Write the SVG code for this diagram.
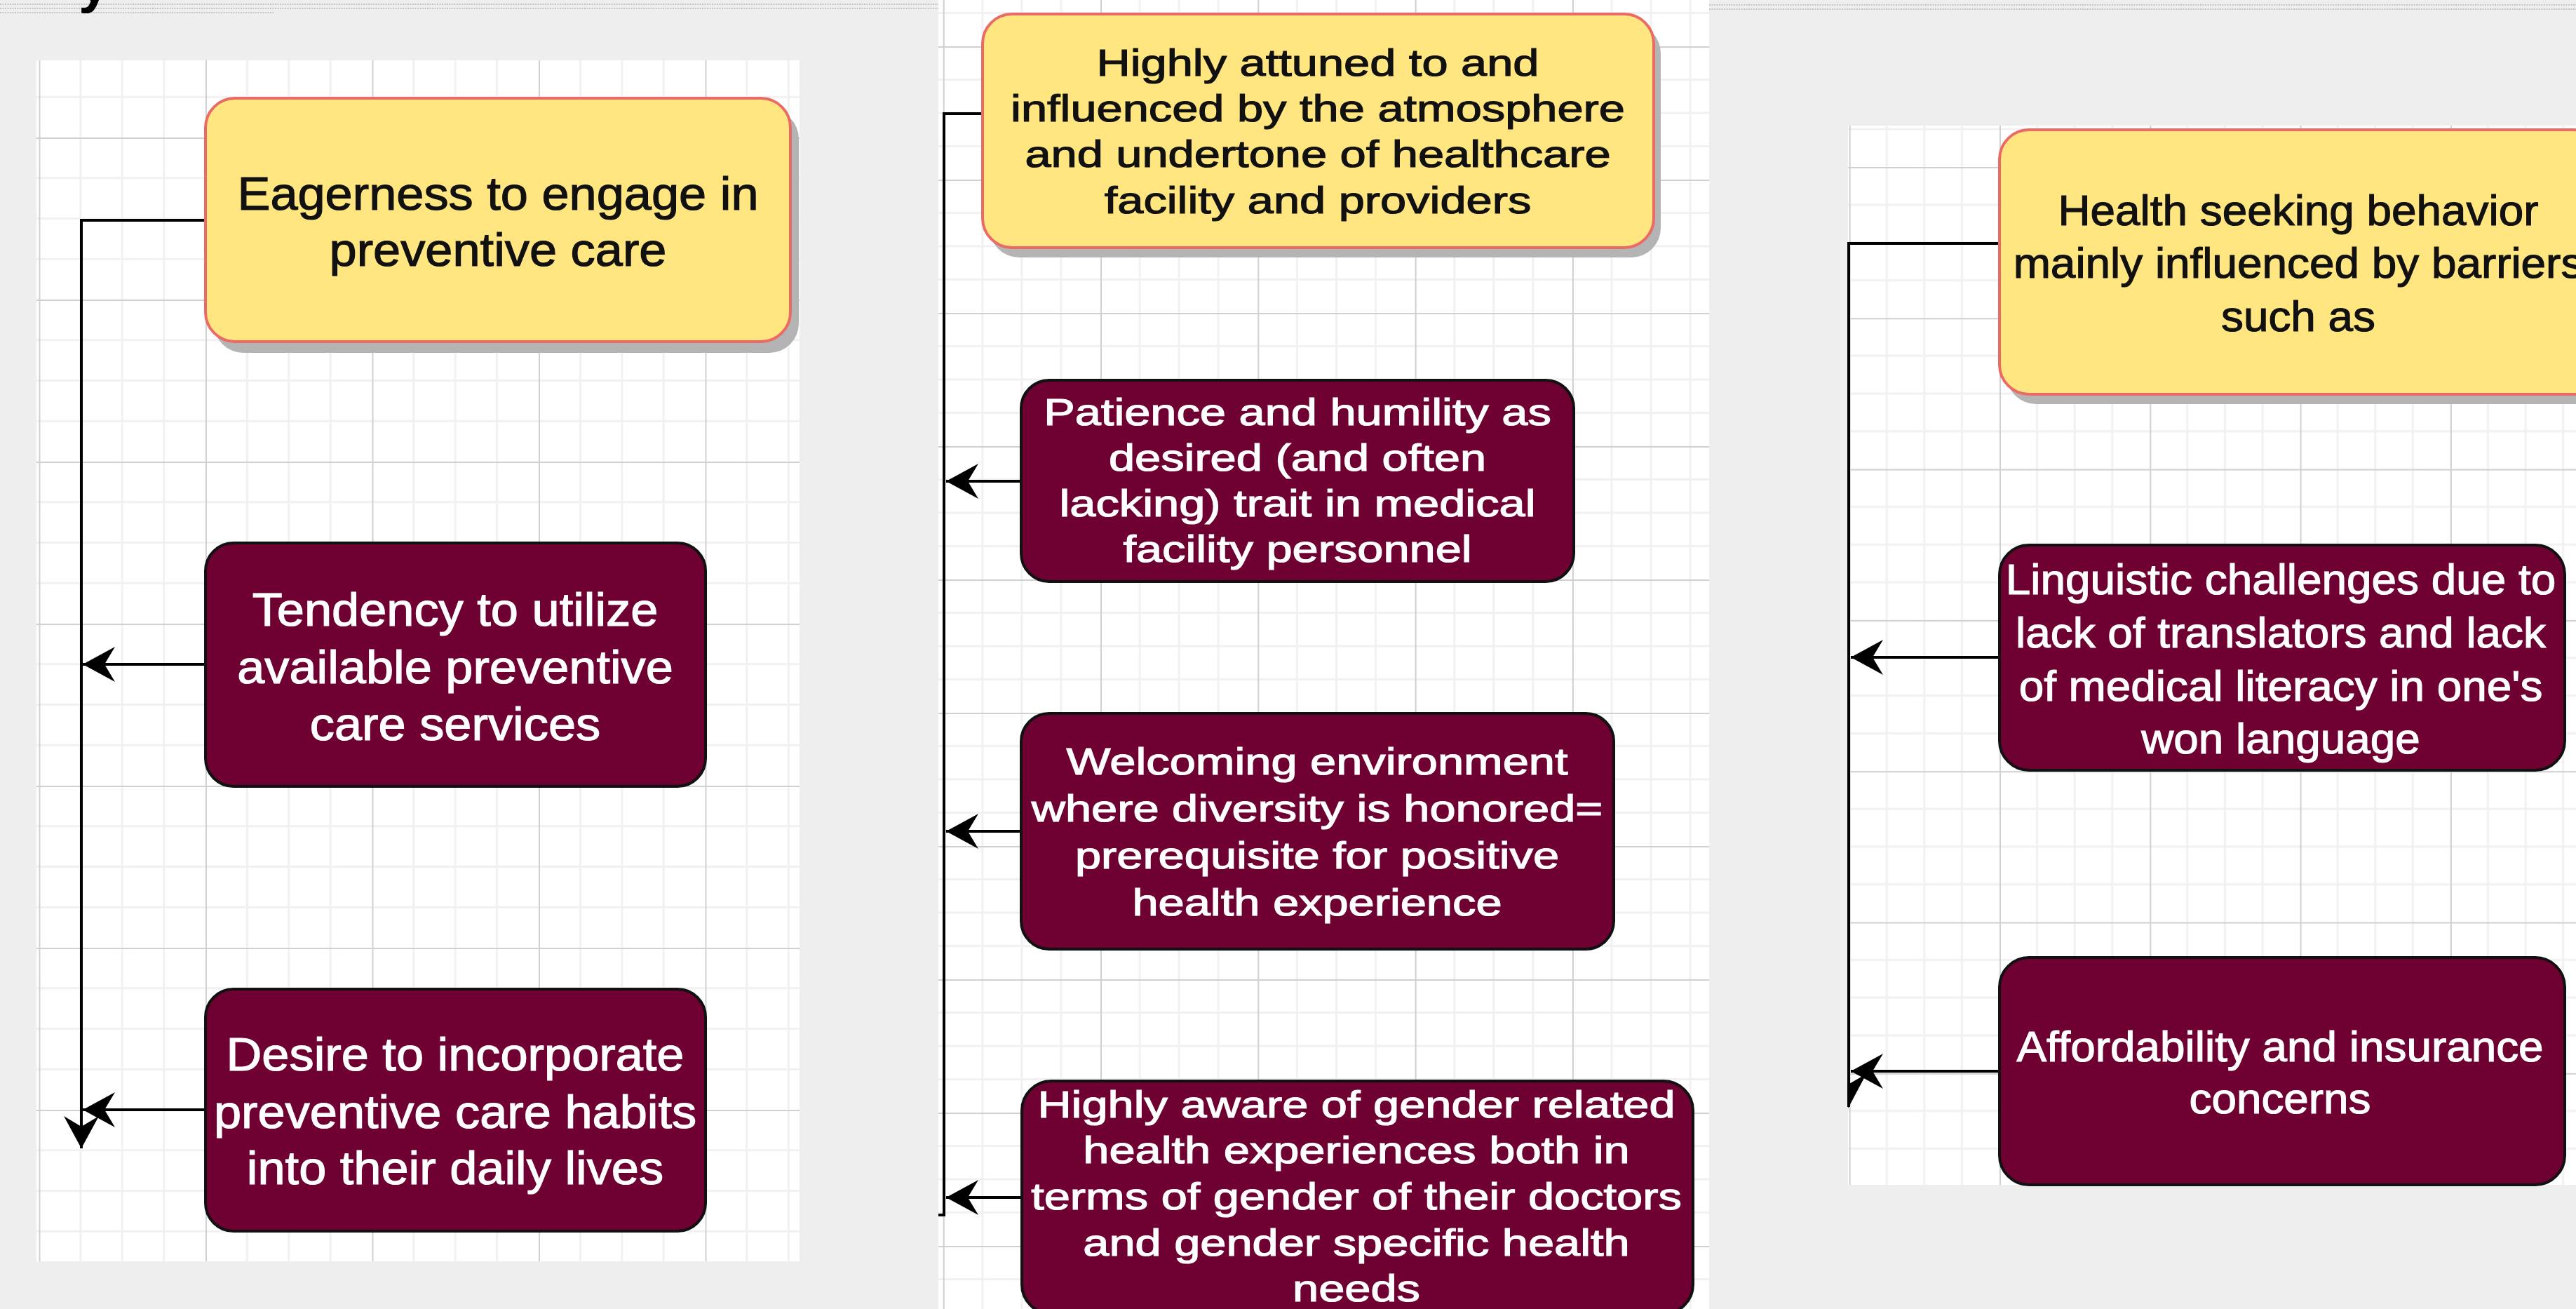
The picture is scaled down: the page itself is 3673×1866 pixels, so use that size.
<svg xmlns="http://www.w3.org/2000/svg" width="3673" height="1866" viewBox="0 0 3673 1866">
<style>
.yel{fill:#FFE680;stroke:#EA6B66;stroke-width:4}
.mar{fill:#6F0032;stroke:#111;stroke-width:4}
.shd{fill:#b4b4b4}
.t{font-family:"Liberation Sans",Arial,Helvetica,sans-serif;text-anchor:middle}
.tk{fill:#111;stroke:#111;stroke-width:1.2}
.tw{fill:#fff;stroke:#fff;stroke-width:1.2}
.f1{font-size:67px}
.f2{font-size:53px}
.f3{font-size:62px}
.edge{fill:none;stroke:#000;stroke-width:4}
.arr{marker-end:url(#ah)}
.hdr{stroke:#b8b8b8;stroke-width:1.6;stroke-dasharray:2 1.5}
.mn{stroke:#f1f1f1;stroke-width:3}
.mj{stroke:#d0d0d0;stroke-width:2}
</style>
<defs>
<marker id="ah" markerUnits="userSpaceOnUse" markerWidth="48" markerHeight="52" viewBox="0 0 48 52" refX="46" refY="26" orient="auto">
<path d="M46,26 L0,1 L15,26 L0,51 Z" fill="#000"/>
</marker>
<pattern id="g1" patternUnits="userSpaceOnUse" x="55.5" y="196" width="237.5" height="231">
<path class="mn" d="M59.4,0V231M118.75,0V231M178.1,0V231M0,57.75H237.5M0,115.5H237.5M0,173.25H237.5"/>
<path class="mj" d="M1,0V231M0,1H237.5"/>
</pattern>
<pattern id="g2" patternUnits="userSpaceOnUse" x="1344.7" y="66" width="224.3" height="190">
<path class="mn" d="M56.1,0V190M112.15,0V190M168.2,0V190M0,47.5H224.3M0,95H224.3M0,142.5H224.3"/>
<path class="mj" d="M1,0V190M0,1H224.3"/>
</pattern>
<pattern id="g3" patternUnits="userSpaceOnUse" x="2636.7" y="22.7" width="214.3" height="215.3">
<path class="mn" d="M53.6,0V215.3M107.15,0V215.3M160.7,0V215.3M0,53.8H214.3M0,107.65H214.3M0,161.5H214.3"/>
<path class="mj" d="M1,0V215.3M0,1H214.3"/>
</pattern>
</defs>

<rect x="0" y="0" width="3673" height="1866" fill="#eeeeee"/>

<g id="header">
<path class="hdr" d="M0,6H1338M0,12H1338M0,18H390M2437,7H3673M2437,13H3673"/>
<text x="112" y="2" font-family="Liberation Sans,Arial,sans-serif" font-weight="bold" font-size="80" fill="#000">y</text>
</g>

<g id="panels">
<rect x="52" y="86" width="1088" height="1712" fill="#fff"/>
<rect x="52" y="86" width="1088" height="1712" fill="url(#g1)"/>
<rect x="1338" y="0" width="1099" height="1866" fill="#fff"/>
<rect x="1338" y="0" width="1099" height="1866" fill="url(#g2)"/>
<rect x="2635" y="179" width="1038" height="1510" fill="#fff"/>
<rect x="2635" y="179" width="1038" height="1510" fill="url(#g3)"/>
</g>

<g id="connectors">
<path class="edge arr" d="M293,314H116V1637"/>
<path class="edge arr" d="M293,947H118"/>
<path class="edge arr" d="M293,1582H118"/>
<path class="edge" d="M1401,162H1346V1732H1338"/>
<path class="edge arr" d="M1456,686H1349"/>
<path class="edge arr" d="M1456,1185H1349"/>
<path class="edge arr" d="M1457,1707H1349"/>
<path class="edge" d="M2851,347H2636V1578"/>
<path class="edge arr" d="M2851,937H2639"/>
<path class="edge arr" d="M2851,1527H2639"/>
<polygon points="2635,1580 2661,1531 2635,1546" fill="#000"/>
</g>

<g id="n1a">
<rect class="shd" x="305" y="156" width="834" height="347" rx="42"/>
<rect class="yel" x="293" y="140" width="834" height="347" rx="42"/>
<text class="t tk f1" transform="translate(710,0) scale(1.05,1)"><tspan x="0" y="299">Eagerness to engage in</tspan><tspan x="0" y="379">preventive care</tspan></text>
</g>
<g id="n1b">
<rect class="mar" x="293" y="774" width="713" height="347" rx="40"/>
<text class="t tw f1" transform="translate(649,0) scale(1.05,1)"><tspan x="0" y="892">Tendency to utilize</tspan><tspan x="0" y="974">available preventive</tspan><tspan x="0" y="1055">care services</tspan></text>
</g>
<g id="n1c">
<rect class="mar" x="293" y="1410" width="713" height="345" rx="40"/>
<text class="t tw f1" transform="translate(649,0) scale(1.05,1)"><tspan x="0" y="1526">Desire to incorporate</tspan><tspan x="0" y="1608">preventive care habits</tspan><tspan x="0" y="1688">into their daily lives</tspan></text>
</g>

<g id="n2a">
<rect class="shd" x="1411" y="34" width="957" height="333" rx="42"/>
<rect class="yel" x="1401" y="20" width="957" height="333" rx="42"/>
<text class="t tk f2" transform="translate(1879,0) scale(1.26,1)"><tspan x="0" y="108">Highly attuned to and</tspan><tspan x="0" y="173">influenced by the atmosphere</tspan><tspan x="0" y="238">and undertone of healthcare</tspan><tspan x="0" y="304">facility and providers</tspan></text>
</g>
<g id="n2b">
<rect class="mar" x="1456" y="542" width="788" height="287" rx="40"/>
<text class="t tw f2" transform="translate(1850,0) scale(1.26,1)"><tspan x="0" y="606">Patience and humility as</tspan><tspan x="0" y="671">desired (and often</tspan><tspan x="0" y="736">lacking) trait in medical</tspan><tspan x="0" y="801">facility personnel</tspan></text>
</g>
<g id="n2c">
<rect class="mar" x="1456" y="1017" width="845" height="336" rx="40"/>
<text class="t tw f2" transform="translate(1878,0) scale(1.26,1)"><tspan x="0" y="1104">Welcoming environment</tspan><tspan x="0" y="1171">where diversity is honored=</tspan><tspan x="0" y="1238">prerequisite for positive</tspan><tspan x="0" y="1305">health experience</tspan></text>
</g>
<g id="n2d">
<rect class="mar" x="1457" y="1541" width="957" height="332" rx="42"/>
<text class="t tw f2" transform="translate(1934,0) scale(1.26,1)"><tspan x="0" y="1593">Highly aware of gender related</tspan><tspan x="0" y="1658">health experiences both in</tspan><tspan x="0" y="1724">terms of gender of their doctors</tspan><tspan x="0" y="1790">and gender specific health</tspan><tspan x="0" y="1855">needs</tspan></text>
</g>

<g id="n3a">
<rect class="shd" x="2861" y="199" width="860" height="377" rx="42"/>
<rect class="yel" x="2851" y="185" width="860" height="377" rx="42"/>
<text class="t tk f3" transform="translate(3277,0) scale(1.03,1)"><tspan x="0" y="321">Health seeking behavior</tspan><tspan x="0" y="396">mainly influenced by barriers</tspan><tspan x="0" y="472">such as</tspan></text>
</g>
<g id="n3b">
<rect class="mar" x="2851" y="777" width="806" height="321" rx="42"/>
<text class="t tw f3" transform="translate(3252,0) scale(1.03,1)"><tspan x="0" y="847">Linguistic challenges due to</tspan><tspan x="0" y="923">lack of translators and lack</tspan><tspan x="0" y="999">of medical literacy in one's</tspan><tspan x="0" y="1074">won language</tspan></text>
</g>
<g id="n3c">
<rect class="mar" x="2851" y="1365" width="806" height="324" rx="42"/>
<text class="t tw f3" transform="translate(3251,0) scale(1.03,1)"><tspan x="0" y="1513">Affordability and insurance</tspan><tspan x="0" y="1587">concerns</tspan></text>
</g>
</svg>
